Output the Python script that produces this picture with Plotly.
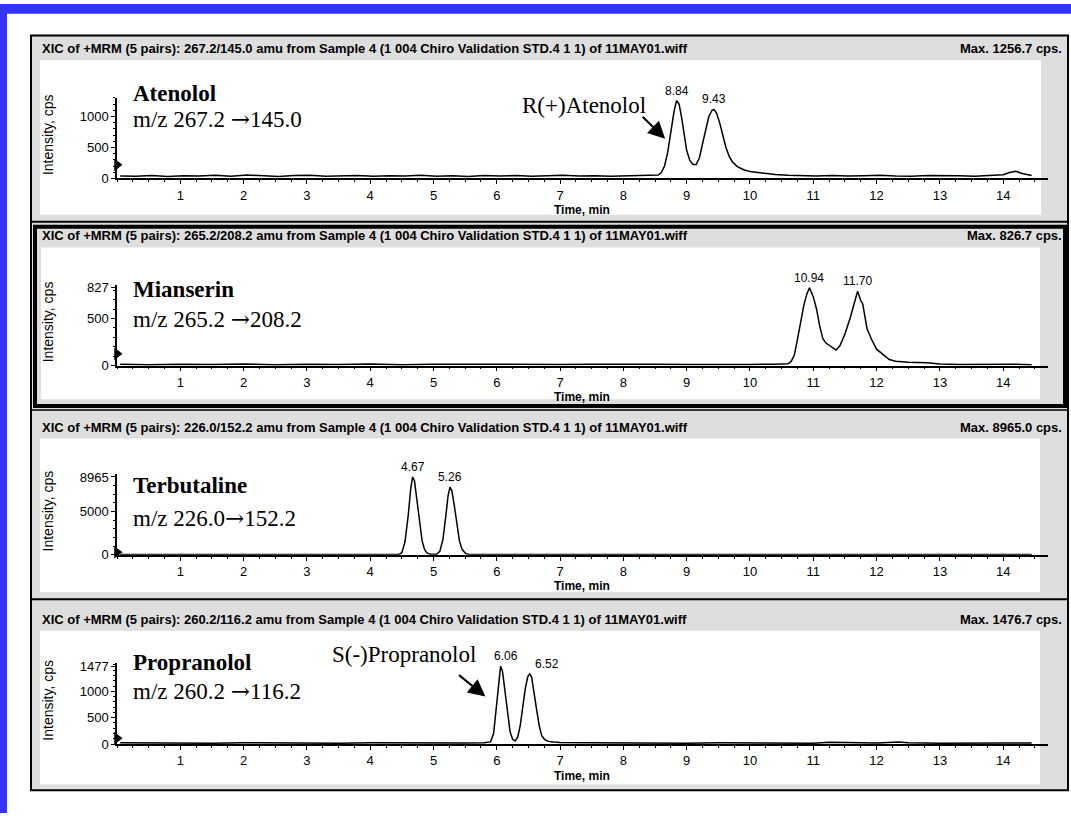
import plotly.graph_objects as go

# ---------------- data ----------------
compounds = ["Atenolol", "Mianserin", "Terbutaline", "Propranolol"]
mz_from = ["267.2", "265.2", "226.0", "260.2"]
mz_to = ["145.0", "208.2", "152.2", "116.2"]
mz_gap = [" ", " ", "", " "]
transitions = ["267.2/145.0", "265.2/208.2", "226.0/152.2", "260.2/116.2"]
max_cps = [1256.7, 826.7, 8965.0, 1476.7]

ytick_vals = [[0, 500, 1000], [0, 500, 827], [0, 5000, 8965], [0, 500, 1000, 1477]]
ytick_text = [["0", "500", "1000"], ["0", "500", "827"], ["0", "5000", "8965"], ["0", "500", "1000", "1477"]]
ymax_axis = [1256.7, 827, 8965, 1477]
yminor = [100, 100, 1000, 100]
xtick_vals = list(range(1, 15))
xtick_text = [str(v) for v in xtick_vals]

peak_times = [[8.84, 9.43], [10.94, 11.70], [4.67, 5.26], [6.06, 6.52]]
threshold_marks = [220, 125, 300, 110]

atenolol_t = [0.05, 0.3, 0.55, 0.8, 1.05, 1.3, 1.55, 1.8, 2.05, 2.3, 2.55, 2.8, 3.05, 3.3, 3.55, 3.8,
              4.05, 4.3, 4.55, 4.8, 5.05, 5.3, 5.55, 5.8, 6.05, 6.3, 6.55, 6.8, 7.05, 7.3, 7.55, 7.8,
              8.05, 8.3, 8.5,
              8.55, 8.6, 8.65, 8.7, 8.75, 8.8, 8.84, 8.88, 8.92, 8.96, 9.0, 9.05, 9.1, 9.15, 9.2, 9.25,
              9.3, 9.35, 9.4, 9.43, 9.47, 9.52, 9.57, 9.62, 9.67, 9.72, 9.8, 9.9, 10.0, 10.2, 10.4,
              10.6, 10.8,
              11.05, 11.3, 11.55, 11.8, 12.05, 12.3, 12.55, 12.8, 13.05, 13.3, 13.55, 13.8, 14.0,
              14.1, 14.2, 14.3, 14.45]
atenolol_i = [40, 35, 45, 30, 42, 38, 50, 36, 55, 40, 30, 45, 52, 35, 40, 48,
              33, 44, 38, 50, 36, 42, 30, 45, 38, 48, 35, 42, 50, 38, 44, 35,
              40, 38, 42,
              55, 95, 200, 420, 750, 1080, 1257, 1200, 980, 700, 450, 290, 225, 225, 330, 560,
              800, 1000, 1100, 1113, 1060, 900, 700, 500, 360, 270, 190, 140, 110, 80, 62,
              50, 45,
              40, 48, 38, 44, 52, 40, 36, 46, 38, 42, 35, 44, 60,
              95, 115, 80, 48]

mianserin_t = [0.05, 0.5, 1.0, 1.5, 2.0, 2.5, 3.0, 3.5, 4.0, 4.5, 5.0, 5.5, 6.0, 6.5, 7.0, 7.5,
               8.0, 8.5, 9.0, 9.5, 10.0, 10.4, 10.6,
               10.65, 10.7, 10.75, 10.8, 10.85, 10.9, 10.94, 11.0, 11.05, 11.1, 11.15, 11.2, 11.3,
               11.36, 11.42, 11.5, 11.58, 11.65, 11.7, 11.75, 11.78, 11.85, 11.92, 12.0, 12.1,
               12.2, 12.3, 12.5, 12.8, 13.0, 13.3, 13.6, 13.9, 14.2, 14.45]
mianserin_i = [14, 10, 16, 12, 18, 9, 15, 11, 17, 10, 14, 12, 16, 10, 13, 15,
               11, 14, 12, 16, 13, 15, 20,
               45, 110, 280, 460, 640, 765, 827, 730, 605, 425, 290, 240, 190,
               165, 210, 335, 500, 680, 790, 690, 660, 390, 280, 175, 120,
               65, 47, 36, 30, 18, 12, 15, 11, 14, 10]

terbutaline_t = [0.05, 0.5, 1.0, 1.5, 2.0, 2.5, 3.0, 3.5, 4.0, 4.3, 4.45,
                 4.5, 4.55, 4.6, 4.64, 4.67, 4.7, 4.74, 4.78, 4.82, 4.86,
                 4.9, 4.95, 5.0, 5.05, 5.1, 5.15, 5.2, 5.23, 5.26, 5.29,
                 5.33, 5.37, 5.41, 5.45, 5.5, 5.55, 5.6,
                 6.0, 6.5, 7.0, 7.5, 8.0, 8.5, 9.0, 9.5, 10.0, 10.5, 11.0, 11.5, 12.0, 12.5,
                 13.0, 13.5, 14.0, 14.45]
terbutaline_i = [40, 30, 45, 35, 50, 30, 40, 35, 45, 40, 50,
                 250, 1500, 4500, 7600, 8965, 8500, 6200, 3500, 1600, 600,
                 200, 60, 40, 70, 400, 1800, 4800, 6800, 7800, 7400,
                 5600, 3300, 1600, 650, 200, 70, 40,
                 35, 45, 30, 40, 35, 45, 30, 40, 35, 45, 30, 40, 35, 45,
                 30, 40, 35, 40]

propranolol_t = [0.05, 0.5, 1.0, 1.5, 2.0, 2.5, 3.0, 3.5, 4.0, 4.5, 5.0, 5.5, 5.8,
                 5.9, 5.95, 6.0, 6.03, 6.06, 6.09, 6.13, 6.17, 6.21, 6.25, 6.29, 6.33, 6.37,
                 6.41, 6.45, 6.49, 6.52, 6.55, 6.59, 6.63, 6.67, 6.71, 6.76, 6.82, 6.9, 7.0,
                 7.5, 8.0, 8.5, 9.0, 9.5, 10.0, 10.5, 11.0, 11.25, 11.5,
                 12.0, 12.35, 12.5, 13.0, 13.5, 14.0, 14.45]
propranolol_i = [25, 18, 22, 15, 24, 18, 20, 16, 22, 18, 24, 20, 25,
                 40, 200, 800, 1250, 1477, 1380, 1000, 550, 230, 90, 60, 130, 350,
                 700, 1050, 1280, 1330, 1270, 1000, 650, 350, 160, 80, 50, 38, 30,
                 22, 18, 25, 15, 22, 18, 20, 16, 35, 28,
                 20, 38, 22, 16, 24, 18, 20]

times = [atenolol_t, mianserin_t, terbutaline_t, propranolol_t]
intens = [atenolol_i, mianserin_i, terbutaline_i, propranolol_i]
for tt, ii in zip(times, intens):
    assert len(tt) == len(ii)

# ---------------- layout geometry (pixels) ----------------
W, H = 1071, 821
def fx(p):
    return p / W
def fy(p):
    return 1 - p / H

X_LEFT, X_RIGHT, X_MAX = 117, 1047.5, 14.7
zero_px = [177, 367, 559, 751]
top_px = [98, 288, 480, 672]
header_px = [45, 235, 430, 625]
name_px = [91, 290, 489, 668]
mz_px = [117, 320, 522, 697]

BLUE = "#3434FF"
GREY = "#dedede"
SANS = "Liberation Sans, Arial, sans-serif"
SERIF = "Liberation Serif, Times New Roman, serif"
ARROW = "<span style=\"font-family:DejaVu Serif\">\u2192</span>"

fig = go.Figure()
layout = dict(width=W, height=H, margin=dict(l=0, r=0, t=0, b=0),
              paper_bgcolor="white", plot_bgcolor="rgba(0,0,0,0)", showlegend=False)

shapes = []
def rect(x0, y0, x1, y1, fill=None, lw=0, lc="black"):
    shapes.append(dict(type="rect", xref="paper", yref="paper", x0=fx(x0), x1=fx(x1), y0=fy(y1), y1=fy(y0),
                       fillcolor=fill if fill else "rgba(0,0,0,0)",
                       line=dict(width=lw, color=lc), layer="below"))
def hline(y, x0, x1, lw):
    shapes.append(dict(type="line", xref="paper", yref="paper", x0=fx(x0), x1=fx(x1), y0=fy(y), y1=fy(y),
                       line=dict(width=lw, color="black"), layer="below"))

# blue frame
rect(0, 0, W, 10, fill=BLUE)
rect(0, 0, 7, H, fill=BLUE)
# grey outer area
rect(31, 32, 1068, 798, fill=GREY, lw=2)
# white chart zones
inner = [(40, 57, 1041, 214), (41, 247, 1040, 401), (40, 441, 1040, 597), (40, 636, 1040, 792)]
for (a, b, c, d) in inner:
    rect(a, b, c, d, fill="white")
hline(221, 31, 1068, 2)
rect(35, 226, 1065, 408, lw=4)
hline(412, 31, 1068, 1.5)
hline(604, 31, 1068, 2)

annotations = []
def ptext(x, y, text, size, family=SANS, xanchor="left", bold=False, angle=0):
    annotations.append(dict(xref="paper", yref="paper", x=fx(x), y=fy(y), text=("<b>%s</b>" % text) if bold else text,
                            showarrow=False, xanchor=xanchor, yanchor="middle", textangle=angle,
                            font=dict(family=family, size=size, color="black")))

for k in range(4):
    ax = "" if k == 0 else str(k + 1)
    z, t = zero_px[k], top_px[k]
    scale = ymax_axis[k] / (z - t)
    ytop = ymax_axis[k] + 3 * scale
    fig.add_trace(go.Scatter(x=times[k], y=intens[k], mode="lines",
                             line=dict(color="black", width=1.5),
                             xaxis="x" + ax, yaxis="y" + ax, hoverinfo="skip"))
    fig.add_trace(go.Scatter(x=[0], y=[threshold_marks[k]], mode="markers",
                             marker=dict(symbol="triangle-right", size=11, color="black"),
                             cliponaxis=False, xaxis="x" + ax, yaxis="y" + ax, hoverinfo="skip"))
    layout["xaxis" + ax] = dict(domain=[fx(X_LEFT), fx(X_RIGHT)], range=[0, X_MAX], anchor="y" + ax,
                                showline=True, linecolor="black", linewidth=1.5, showgrid=False, zeroline=False,
                                ticks="outside", ticklen=4, tickwidth=1, tickcolor="black",
                                tickmode="array", tickvals=xtick_vals, ticktext=xtick_text,
                                tickfont=dict(family=SANS, size=13, color="black"),
                                minor=dict(ticks="outside", ticklen=2, tickcolor="black", dtick=0.25, tick0=0,
                                           showgrid=False))
    layout["yaxis" + ax] = dict(domain=[fy(z), fy(t - 3)], range=[0, ytop], anchor="x" + ax,
                                showline=True, linecolor="black", linewidth=1.5, showgrid=False, zeroline=False,
                                ticks="outside", ticklen=4, tickwidth=1, tickcolor="black",
                                tickmode="array", tickvals=ytick_vals[k], ticktext=ytick_text[k],
                                tickfont=dict(family=SANS, size=13, color="black"),
                                minor=dict(ticks="outside", ticklen=2, tickcolor="black", dtick=yminor[k], tick0=0,
                                           showgrid=False))
    # header texts
    ptext(40, header_px[k], "XIC of +MRM (5 pairs): %s amu from Sample 4 (1 004 Chiro Validation STD.4 1 1) of 11MAY01.wiff"
          % transitions[k], 13, bold=True)
    ptext(1064, header_px[k], "Max. %.1f cps." % max_cps[k], 13, xanchor="right", bold=True)
    ptext(48, z - 44, "Intensity, cps", 14, angle=-90, xanchor="center")
    ptext(582, z + 32, "Time, min", 12, xanchor="center", bold=True)
    ptext(131, name_px[k], compounds[k], 23, family=SERIF, bold=True)
    ptext(131, mz_px[k], "m/z %s%s%s%s" % (mz_from[k], mz_gap[k], ARROW, mz_to[k]), 23, family=SERIF)
    # peak labels
    for j, pt in enumerate(peak_times[k]):
        idx = min(range(len(times[k])), key=lambda q: abs(times[k][q] - pt))
        xs = 0
        if k == 3:
            xs = 5 if j == 0 else 17
        annotations.append(dict(xref="x" + ax, yref="y" + ax, x=pt, y=intens[k][idx], text="%.2f" % pt,
                                showarrow=False, yanchor="bottom", yshift=1, xshift=xs,
                                font=dict(family=SANS, size=12, color="black")))

# enantiomer call-outs
ptext(648, 103, "R(+)Atenolol", 23, family=SERIF, xanchor="right")
annotations.append(dict(xref="x", yref="y", axref="x", ayref="y", x=8.66, y=640, ax=8.28, ay=1020,
                        text="", showarrow=True, arrowhead=2, arrowsize=1.7, arrowwidth=2, arrowcolor="black"))
ptext(330, 660, "S(-)Propranolol", 23, family=SERIF)
annotations.append(dict(xref="x4", yref="y4", axref="x4", ayref="y4", x=5.82, y=900, ax=5.38, ay=1330,
                        text="", showarrow=True, arrowhead=2, arrowsize=1.7, arrowwidth=2, arrowcolor="black"))

layout["shapes"] = shapes
layout["annotations"] = annotations
fig.update_layout(**layout)
fig.write_html("out.html", config={"displayModeBar": False},
               post_script="document.body.style.margin='0';document.body.style.overflow='hidden';")
